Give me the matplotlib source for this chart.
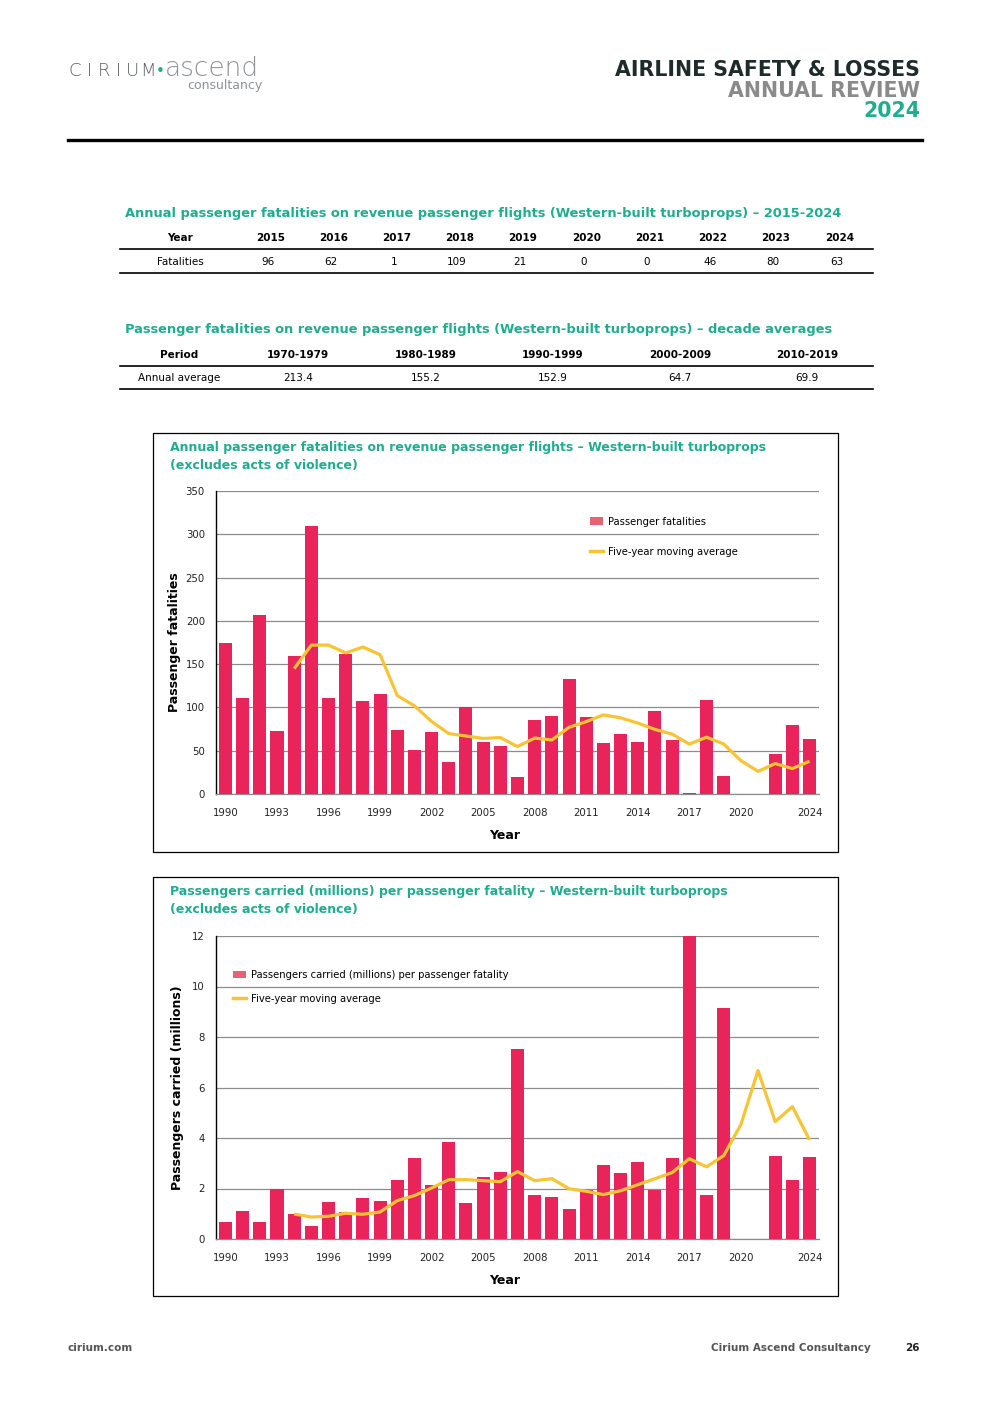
import numpy as np
import matplotlib
matplotlib.use('Agg')
import matplotlib.pyplot as plt
from matplotlib.patches import Rectangle
from matplotlib.lines import Line2D
from matplotlib.patches import Patch

plt.rcParams['font.family'] = ['DejaVu Sans']

# Data
years = list(range(1990, 2025))
fatalities = [174, 111, 207, 73, 159, 310, 111, 162, 107, 115,
              74, 51, 72, 37, 101, 60, 56, 20, 86, 90,
              133, 89, 59, 69, 60, 96, 62, 1, 109, 21,
              0, 0, 46, 80, 63]
ma_years = list(range(1994, 2025))
fatal_ma = [144.8, 172.0, 172.0, 163.0, 169.8, 161.0, 113.8, 101.8, 83.8, 69.8,
            67.0, 64.2, 65.2, 54.8, 64.6, 62.4, 77.0, 83.6, 91.4, 88.0,
            82.0, 74.6, 69.2, 57.6, 65.6, 57.8, 38.6, 26.2, 35.2, 29.4, 37.8]

pax_per_fatal = [0.68, 1.12, 0.68, 2.00, 1.00, 0.52, 1.48, 1.08, 1.64, 1.52,
                 2.32, 3.20, 2.12, 3.84, 1.44, 2.44, 2.64, 7.54, 1.76, 1.68,
                 1.20, 1.96, 2.92, 2.60, 3.04, 1.96, 3.20, 12.0, 1.76, 9.16,
                 0.0, 0.0, 3.28, 2.32, 3.24]
pax_ma = [0.99, 0.87, 0.90, 1.02, 0.98, 1.07, 1.52, 1.72, 2.02, 2.35,
          2.35, 2.31, 2.27, 2.67, 2.31, 2.39, 1.99, 1.89, 1.76, 1.91,
          2.15, 2.39, 2.63, 3.18, 2.86, 3.30, 4.53, 6.67, 4.65, 5.24, 3.93]

tbl1_years = ['2015', '2016', '2017', '2018', '2019', '2020', '2021', '2022', '2023', '2024']
tbl1_vals = ['96', '62', '1', '109', '21', '0', '0', '46', '80', '63']
tbl2_periods = ['1970-1979', '1980-1989', '1990-1999', '2000-2009', '2010-2019']
tbl2_vals = ['213.4', '155.2', '152.9', '64.7', '69.9']

xtick_years = [1990, 1993, 1996, 1999, 2002, 2005, 2008, 2011, 2014, 2017, 2020, 2024]

W, H = 992, 1403
TEAL = '#1DAE8F'
BAR = '#E8245A'
LINE = '#F9C433'
GRID = '#8C8C8C'

fig = plt.figure(figsize=(W / 100, H / 100), dpi=100)


def ftext(x, y, s, **kw):
    kw.setdefault('va', 'center')
    fig.text(x / W, 1 - y / H, s, **kw)


def hline(x0, x1, y, lw=1.0, color='black'):
    fig.add_artist(Line2D([x0 / W, x1 / W], [1 - y / H, 1 - y / H],
                          transform=fig.transFigure, color=color, lw=lw))


# Header / logo
for i, ch in enumerate('CIRIUM'):
    ftext(75 + i * 14.5, 71, ch, fontsize=13, color='#5A5F63', ha='center', fontweight='light')
ftext(160, 71, '•', fontsize=11, color=TEAL, ha='center')
ftext(165, 69, 'ascend', fontsize=19, color='#8E9397', ha='left', fontweight='light')
ftext(262, 86, 'consultancy', fontsize=9, color='#8E9397', ha='right')
ftext(920, 70, 'AIRLINE SAFETY & LOSSES', fontsize=14.8, color='#1F2B2B', ha='right', fontweight='bold')
ftext(920, 91, 'ANNUAL REVIEW', fontsize=14.8, color='#8A8A8A', ha='right', fontweight='bold')
ftext(920, 111, '2024', fontsize=14.8, color=TEAL, ha='right', fontweight='bold')
hline(68, 922, 140, lw=2.4)

# Table 1
ftext(125, 214, 'Annual passenger fatalities on revenue passenger flights (Western-built turboprops) – 2015-2024',
      fontsize=9.4, color=TEAL, fontweight='bold', ha='left')
ftext(180, 238, 'Year', fontsize=7.5, fontweight='bold', ha='center')
ftext(180, 262, 'Fatalities', fontsize=7.5, ha='center')
xs1 = [271, 334, 397, 460, 523, 587, 650, 713, 776, 840]
for x, yr, v in zip(xs1, tbl1_years, tbl1_vals):
    ftext(x, 238, yr, fontsize=7.5, fontweight='bold', ha='center')
    ftext(x - 3, 262, v, fontsize=7.5, ha='center')
hline(120, 873, 249, lw=1.2)
hline(120, 873, 273, lw=1.2)

# Table 2
ftext(125, 330, 'Passenger fatalities on revenue passenger flights (Western-built turboprops) – decade averages',
      fontsize=9.4, color=TEAL, fontweight='bold', ha='left')
ftext(179, 355, 'Period', fontsize=7.5, fontweight='bold', ha='center')
ftext(179, 378, 'Annual average', fontsize=7.5, ha='center')
xs2 = [298, 426, 553, 680, 807]
for x, p, v in zip(xs2, tbl2_periods, tbl2_vals):
    ftext(x, 355, p, fontsize=7.5, fontweight='bold', ha='center')
    ftext(x, 378, v, fontsize=7.5, ha='center')
hline(120, 873, 366, lw=1.2)
hline(120, 873, 389, lw=1.2)


def chart(box_top, box_bot, ax_top, ax_bot, title_lines, bars, ma, ymax, ystep,
          ylabel, ylabelpad, bar_label, legend_anchor, spacing):
    fig.add_artist(Rectangle((153 / W, 1 - box_bot / H), (838 - 153) / W, (box_bot - box_top) / H,
                             transform=fig.transFigure, fill=False, edgecolor='black', lw=0.9))
    for i, t in enumerate(title_lines):
        ftext(170, box_top + 15 + i * 18, t, fontsize=9, color=TEAL, fontweight='bold', ha='left')
    ax = fig.add_axes([216 / W, 1 - ax_bot / H, (819 - 216) / W, (ax_bot - ax_top) / H])
    idx = np.arange(len(years))
    ax.bar(idx, bars, width=0.76, color=BAR, zorder=3)
    ma_idx = [years.index(y) for y in ma_years]
    ax.plot(ma_idx, ma, color=LINE, lw=2.3, zorder=4, solid_capstyle='butt')
    ax.set_xlim(-0.55, len(years) - 0.45)
    ax.set_ylim(0, ymax)
    ax.set_yticks(np.arange(0, ymax + ystep / 2, ystep))
    ax.yaxis.grid(True, color=GRID, lw=0.9, zorder=0)
    ax.set_axisbelow(True)
    ax.set_xticks([years.index(y) for y in xtick_years])
    ax.set_xticklabels([str(y) for y in xtick_years])
    ax.tick_params(length=0, labelsize=7.3, colors='#222222')
    ax.tick_params(axis='x', pad=10)
    ax.tick_params(axis='y', pad=8)
    for s in ['top', 'right']:
        ax.spines[s].set_visible(False)
    ax.spines['bottom'].set_color(GRID)
    ax.spines['bottom'].set_linewidth(0.9)
    ax.spines['left'].set_linewidth(1.0)
    ax.set_ylabel(ylabel, fontsize=9, fontweight='bold', labelpad=ylabelpad)
    ax.set_xlabel('Year', fontsize=9, fontweight='bold')
    # "Year" sits a little left of the axes centre, ~35 px below the baseline
    ax.xaxis.set_label_coords(0.478, -35 / (ax_bot - ax_top))
    handles = [Patch(facecolor='#E5646F', edgecolor='none'),
               Line2D([0], [0], color=LINE, lw=2.5)]
    ax.legend(handles, [bar_label, 'Five-year moving average'], loc='upper left',
              bbox_to_anchor=legend_anchor, frameon=False, fontsize=7.2,
              labelspacing=spacing, handlelength=1.3, handleheight=0.8, handletextpad=0.5)
    return ax


chart(433, 852, 491, 794,
      ['Annual passenger fatalities on revenue passenger flights – Western-built turboprops',
       '(excludes acts of violence)'],
      fatalities, fatal_ma, 350, 50, 'Passenger fatalities', 3, 'Passenger fatalities',
      (0.605, 0.945), 2.0)

chart(877, 1296, 936, 1239,
      ['Passengers carried (millions) per passenger fatality – Western-built turboprops',
       '(excludes acts of violence)'],
      pax_per_fatal, pax_ma, 12, 2, 'Passengers carried (millions)', 6,
      'Passengers carried (millions) per passenger fatality',
      (0.013, 0.918), 1.4)

# Footer
ftext(68, 1348, 'cirium.com', fontsize=7.5, color='#555555', fontweight='bold', ha='left')
ftext(871, 1348, 'Cirium Ascend Consultancy', fontsize=7.5, color='#555555', fontweight='bold', ha='right')
ftext(920, 1348, '26', fontsize=7.5, color='#222222', fontweight='bold', ha='right')

fig.savefig('out.png', dpi=100)
